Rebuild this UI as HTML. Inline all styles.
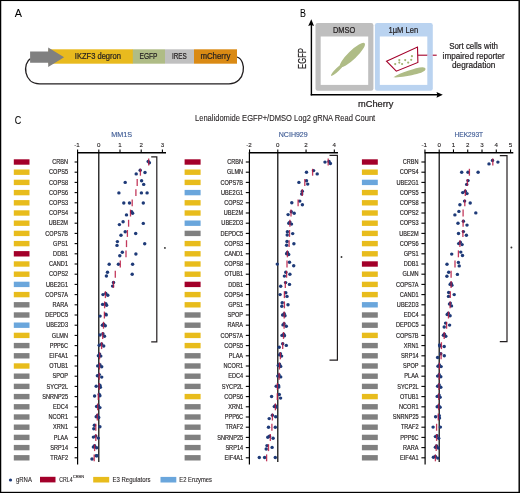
<!DOCTYPE html>
<html><head><meta charset="utf-8"><style>
html,body{margin:0;padding:0;background:#fff;overflow:hidden;}
svg{display:block;font-family:"Liberation Sans", sans-serif;will-change:transform;}
</style></head><body>
<svg width="520" height="493" viewBox="0 0 520 493">
<rect x="0" y="0" width="520" height="493" fill="#fff"/>
<text x="14.80" y="17.00" font-size="11.2" fill="#000" text-anchor="start" stroke="#000" stroke-width="0.05" textLength="7.20" lengthAdjust="spacingAndGlyphs" >A</text>
<text x="300.00" y="17.00" font-size="11.2" fill="#000" text-anchor="start" stroke="#000" stroke-width="0.05" textLength="5.90" lengthAdjust="spacingAndGlyphs" >B</text>
<text x="14.80" y="123.80" font-size="11.6" fill="#000" text-anchor="start" stroke="#000" stroke-width="0.05" textLength="6.50" lengthAdjust="spacingAndGlyphs" >C</text>
<path d="M30.5,58.6 C22.5,63 23.5,83.8 39.5,83.8 L229,83.8 C246,83.8 247,60 237,57" fill="none" stroke="#231F20" stroke-width="1.3"/>
<rect x="48.4" y="49.3" width="84.6" height="14.4" fill="#E8BA1E"/>
<rect x="132.8" y="49.3" width="32.2" height="14.4" fill="#AFBC86"/>
<rect x="165" y="49.3" width="29" height="14.4" fill="#C0C0C0"/>
<rect x="194" y="49.3" width="43" height="14.4" fill="#DA8A14"/>
<path d="M30.1,51.4 L48.2,51.4 L48.2,47.6 L64.1,57.2 L48.2,66.9 L48.2,62.8 L30.1,62.8 Z" fill="#808080"/>
<text x="74.80" y="59.30" font-size="8.6" fill="#231F20" text-anchor="start" stroke="#231F20" stroke-width="0.22" textLength="46.20" lengthAdjust="spacingAndGlyphs" >IKZF3 degron</text>
<text x="139.50" y="59.30" font-size="8.6" fill="#231F20" text-anchor="start" stroke="#231F20" stroke-width="0.22" textLength="18.00" lengthAdjust="spacingAndGlyphs" >EGFP</text>
<text x="171.90" y="59.30" font-size="8.6" fill="#231F20" text-anchor="start" stroke="#231F20" stroke-width="0.22" textLength="14.80" lengthAdjust="spacingAndGlyphs" >IRES</text>
<text x="200.40" y="59.30" font-size="8.6" fill="#231F20" text-anchor="start" stroke="#231F20" stroke-width="0.22" textLength="30.10" lengthAdjust="spacingAndGlyphs" >mCherry</text>
<rect x="315.5" y="23.1" width="57.9" height="67.6" rx="2.2" fill="#BFBFBF"/>
<rect x="320.7" y="36.5" width="47.5" height="48.4" fill="#fff"/>
<rect x="374.9" y="23.1" width="57.9" height="67.6" rx="2.2" fill="#BAD3F0"/>
<rect x="379.8" y="36.5" width="47.5" height="48.4" fill="#fff"/>
<text x="332.90" y="32.80" font-size="9.0" fill="#231F20" text-anchor="start" stroke="#231F20" stroke-width="0.22" textLength="22.30" lengthAdjust="spacingAndGlyphs" >DMSO</text>
<text x="388.50" y="32.80" font-size="9.0" fill="#231F20" text-anchor="start" stroke="#231F20" stroke-width="0.22" textLength="29.60" lengthAdjust="spacingAndGlyphs" >1µM Len</text>
<ellipse cx="352.4" cy="55.0" rx="17" ry="4.3" transform="rotate(-44 352.4 55.0)" fill="#AFBC86"/>
<ellipse cx="337.6" cy="69.5" rx="9" ry="1.75" transform="rotate(-44 337.6 69.5)" fill="#AFBC86"/>
<path d="M393.4,77.3 C397,75 402,72.6 408,70.8 C414,69 419,67.2 422.6,67.3 C426,67.4 426.3,69.6 424.3,71.1 C421,73.5 414,75 406,76.3 C400,77.2 396,77.7 393.4,77.3 Z" fill="#AFBC86"/>
<path d="M386.5,61.2 L417.5,47 L417.9,62.4 L396.3,71.2 Z" fill="none" stroke="#A3002A" stroke-width="1.1" stroke-linejoin="miter"/>
<line x1="417.9" y1="55.2" x2="427.4" y2="55.2" stroke="#A3002A" stroke-width="1.1"/>
<line x1="427.4" y1="55.2" x2="432.8" y2="55.2" stroke="#CDC6E4" stroke-width="1.1"/>
<line x1="432.8" y1="55.2" x2="436.7" y2="55.2" stroke="#A3002A" stroke-width="1.1"/>
<circle cx="395.2" cy="64.1" r="1.1" fill="#A3B472"/>
<circle cx="399.3" cy="60.1" r="1.1" fill="#A3B472"/>
<circle cx="399.3" cy="62.6" r="1.1" fill="#A3B472"/>
<circle cx="402.1" cy="64" r="1.1" fill="#A3B472"/>
<circle cx="405.2" cy="60.1" r="1.1" fill="#A3B472"/>
<circle cx="408.2" cy="62.6" r="1.1" fill="#A3B472"/>
<circle cx="411.2" cy="59.8" r="1.1" fill="#A3B472"/>
<circle cx="411.9" cy="56.2" r="1.1" fill="#A3B472"/>
<line x1="311.4" y1="24" x2="311.4" y2="95.4" stroke="#000" stroke-width="1.4"/>
<line x1="310.7" y1="94.8" x2="438" y2="94.8" stroke="#000" stroke-width="1.5"/>
<path d="M311.3,19.2 L314.0,25.9 L311.3,25.0 L308.2,25.9 Z" fill="#000"/>
<path d="M442.8,94.8 L436.5,97.7 L437.4,94.8 L436.5,91.9 Z" fill="#000"/>
<text x="358.00" y="107.10" font-size="9.1" fill="#231F20" text-anchor="start" stroke="#231F20" stroke-width="0.22" textLength="35.50" lengthAdjust="spacingAndGlyphs" >mCherry</text>
<text x="0" y="0" font-size="10" fill="#231F20" stroke="#231F20" stroke-width="0.22" textLength="20.8" lengthAdjust="spacingAndGlyphs" transform="translate(305.9,68.9) rotate(-90)">EGFP</text>
<text x="449.20" y="48.70" font-size="8.9" fill="#231F20" text-anchor="start" stroke="#231F20" stroke-width="0.22" textLength="48.80" lengthAdjust="spacingAndGlyphs" >Sort cells with</text>
<text x="442.60" y="58.50" font-size="8.9" fill="#231F20" text-anchor="start" stroke="#231F20" stroke-width="0.22" textLength="62.20" lengthAdjust="spacingAndGlyphs" >impaired reporter</text>
<text x="452.00" y="68.10" font-size="8.9" fill="#231F20" text-anchor="start" stroke="#231F20" stroke-width="0.22" textLength="43.40" lengthAdjust="spacingAndGlyphs" >degradation</text>
<text x="195.00" y="121.00" font-size="8.4" fill="#231F20" text-anchor="start" stroke="#231F20" stroke-width="0.1" textLength="180.20" lengthAdjust="spacingAndGlyphs" >Lenalidomide EGFP+/DMSO Log2 gRNA Read Count</text>
<line x1="77.00" y1="152.7" x2="166.00" y2="152.7" stroke="#000" stroke-width="1.4"/>
<line x1="77.60" y1="152.7" x2="77.60" y2="464.5" stroke="#000" stroke-width="1.2"/>
<line x1="98.80" y1="152.7" x2="98.80" y2="462" stroke="#000" stroke-width="1.2"/>
<line x1="77.60" y1="152.7" x2="77.60" y2="149.4" stroke="#000" stroke-width="1.1"/>
<text x="77.00" y="147.00" font-size="6.2" fill="#231F20" text-anchor="middle" stroke="#231F20" stroke-width="0.12" >-1</text>
<line x1="98.80" y1="152.7" x2="98.80" y2="149.4" stroke="#000" stroke-width="1.1"/>
<text x="98.80" y="147.00" font-size="6.2" fill="#231F20" text-anchor="middle" stroke="#231F20" stroke-width="0.12" >0</text>
<line x1="120.00" y1="152.7" x2="120.00" y2="149.4" stroke="#000" stroke-width="1.1"/>
<text x="120.00" y="147.00" font-size="6.2" fill="#231F20" text-anchor="middle" stroke="#231F20" stroke-width="0.12" >1</text>
<line x1="141.20" y1="152.7" x2="141.20" y2="149.4" stroke="#000" stroke-width="1.1"/>
<text x="141.20" y="147.00" font-size="6.2" fill="#231F20" text-anchor="middle" stroke="#231F20" stroke-width="0.12" >2</text>
<line x1="162.40" y1="152.7" x2="162.40" y2="149.4" stroke="#000" stroke-width="1.1"/>
<text x="162.40" y="147.00" font-size="6.2" fill="#231F20" text-anchor="middle" stroke="#231F20" stroke-width="0.12" >3</text>
<text x="111.20" y="136.60" font-size="7.8" fill="#3D5A94" text-anchor="start" stroke="#3D5A94" stroke-width="0.15" textLength="20.80" lengthAdjust="spacingAndGlyphs" >MM1S</text>
<rect x="13.80" y="159.30" width="15.70" height="5.4" fill="#A3002A"/>
<line x1="74.60" y1="162.00" x2="77.60" y2="162.00" stroke="#000" stroke-width="1.1"/>
<rect x="13.80" y="169.50" width="15.70" height="5.4" fill="#E8BC1C"/>
<line x1="74.60" y1="172.20" x2="77.60" y2="172.20" stroke="#000" stroke-width="1.1"/>
<rect x="13.80" y="179.70" width="15.70" height="5.4" fill="#E8BC1C"/>
<line x1="74.60" y1="182.40" x2="77.60" y2="182.40" stroke="#000" stroke-width="1.1"/>
<rect x="13.80" y="189.90" width="15.70" height="5.4" fill="#E8BC1C"/>
<line x1="74.60" y1="192.60" x2="77.60" y2="192.60" stroke="#000" stroke-width="1.1"/>
<rect x="13.80" y="200.10" width="15.70" height="5.4" fill="#E8BC1C"/>
<line x1="74.60" y1="202.80" x2="77.60" y2="202.80" stroke="#000" stroke-width="1.1"/>
<rect x="13.80" y="210.30" width="15.70" height="5.4" fill="#E8BC1C"/>
<line x1="74.60" y1="213.00" x2="77.60" y2="213.00" stroke="#000" stroke-width="1.1"/>
<rect x="13.80" y="220.50" width="15.70" height="5.4" fill="#E8BC1C"/>
<line x1="74.60" y1="223.20" x2="77.60" y2="223.20" stroke="#000" stroke-width="1.1"/>
<rect x="13.80" y="230.70" width="15.70" height="5.4" fill="#E8BC1C"/>
<line x1="74.60" y1="233.40" x2="77.60" y2="233.40" stroke="#000" stroke-width="1.1"/>
<rect x="13.80" y="240.90" width="15.70" height="5.4" fill="#E8BC1C"/>
<line x1="74.60" y1="243.60" x2="77.60" y2="243.60" stroke="#000" stroke-width="1.1"/>
<rect x="13.80" y="251.10" width="15.70" height="5.4" fill="#A3002A"/>
<line x1="74.60" y1="253.80" x2="77.60" y2="253.80" stroke="#000" stroke-width="1.1"/>
<rect x="13.80" y="261.30" width="15.70" height="5.4" fill="#E8BC1C"/>
<line x1="74.60" y1="264.00" x2="77.60" y2="264.00" stroke="#000" stroke-width="1.1"/>
<rect x="13.80" y="271.50" width="15.70" height="5.4" fill="#E8BC1C"/>
<line x1="74.60" y1="274.20" x2="77.60" y2="274.20" stroke="#000" stroke-width="1.1"/>
<rect x="13.80" y="281.70" width="15.70" height="5.4" fill="#6AA6DC"/>
<line x1="74.60" y1="284.40" x2="77.60" y2="284.40" stroke="#000" stroke-width="1.1"/>
<rect x="13.80" y="291.90" width="15.70" height="5.4" fill="#E8BC1C"/>
<line x1="74.60" y1="294.60" x2="77.60" y2="294.60" stroke="#000" stroke-width="1.1"/>
<rect x="13.80" y="302.10" width="15.70" height="5.4" fill="#808080"/>
<line x1="74.60" y1="304.80" x2="77.60" y2="304.80" stroke="#000" stroke-width="1.1"/>
<rect x="13.80" y="312.30" width="15.70" height="5.4" fill="#808080"/>
<line x1="74.60" y1="315.00" x2="77.60" y2="315.00" stroke="#000" stroke-width="1.1"/>
<rect x="13.80" y="322.50" width="15.70" height="5.4" fill="#6AA6DC"/>
<line x1="74.60" y1="325.20" x2="77.60" y2="325.20" stroke="#000" stroke-width="1.1"/>
<rect x="13.80" y="332.70" width="15.70" height="5.4" fill="#E8BC1C"/>
<line x1="74.60" y1="335.40" x2="77.60" y2="335.40" stroke="#000" stroke-width="1.1"/>
<rect x="13.80" y="342.90" width="15.70" height="5.4" fill="#808080"/>
<line x1="74.60" y1="345.60" x2="77.60" y2="345.60" stroke="#000" stroke-width="1.1"/>
<rect x="13.80" y="353.10" width="15.70" height="5.4" fill="#808080"/>
<line x1="74.60" y1="355.80" x2="77.60" y2="355.80" stroke="#000" stroke-width="1.1"/>
<rect x="13.80" y="363.30" width="15.70" height="5.4" fill="#E8BC1C"/>
<line x1="74.60" y1="366.00" x2="77.60" y2="366.00" stroke="#000" stroke-width="1.1"/>
<rect x="13.80" y="373.50" width="15.70" height="5.4" fill="#808080"/>
<line x1="74.60" y1="376.20" x2="77.60" y2="376.20" stroke="#000" stroke-width="1.1"/>
<rect x="13.80" y="383.70" width="15.70" height="5.4" fill="#808080"/>
<line x1="74.60" y1="386.40" x2="77.60" y2="386.40" stroke="#000" stroke-width="1.1"/>
<rect x="13.80" y="393.90" width="15.70" height="5.4" fill="#808080"/>
<line x1="74.60" y1="396.60" x2="77.60" y2="396.60" stroke="#000" stroke-width="1.1"/>
<rect x="13.80" y="404.10" width="15.70" height="5.4" fill="#808080"/>
<line x1="74.60" y1="406.80" x2="77.60" y2="406.80" stroke="#000" stroke-width="1.1"/>
<rect x="13.80" y="414.30" width="15.70" height="5.4" fill="#808080"/>
<line x1="74.60" y1="417.00" x2="77.60" y2="417.00" stroke="#000" stroke-width="1.1"/>
<rect x="13.80" y="424.50" width="15.70" height="5.4" fill="#808080"/>
<line x1="74.60" y1="427.20" x2="77.60" y2="427.20" stroke="#000" stroke-width="1.1"/>
<rect x="13.80" y="434.70" width="15.70" height="5.4" fill="#808080"/>
<line x1="74.60" y1="437.40" x2="77.60" y2="437.40" stroke="#000" stroke-width="1.1"/>
<rect x="13.80" y="444.90" width="15.70" height="5.4" fill="#808080"/>
<line x1="74.60" y1="447.60" x2="77.60" y2="447.60" stroke="#000" stroke-width="1.1"/>
<rect x="13.80" y="455.10" width="15.70" height="5.4" fill="#808080"/>
<line x1="74.60" y1="457.80" x2="77.60" y2="457.80" stroke="#000" stroke-width="1.1"/>
<g transform="translate(68.00,0) scale(0.848,1)">
<text x="0.00" y="164.30" font-size="6.6" fill="#231F20" text-anchor="end" stroke="#231F20" stroke-width="0.18" >CRBN</text>
<text x="0.00" y="174.50" font-size="6.6" fill="#231F20" text-anchor="end" stroke="#231F20" stroke-width="0.18" >COPS5</text>
<text x="0.00" y="184.70" font-size="6.6" fill="#231F20" text-anchor="end" stroke="#231F20" stroke-width="0.18" >COPS8</text>
<text x="0.00" y="194.90" font-size="6.6" fill="#231F20" text-anchor="end" stroke="#231F20" stroke-width="0.18" >COPS6</text>
<text x="0.00" y="205.10" font-size="6.6" fill="#231F20" text-anchor="end" stroke="#231F20" stroke-width="0.18" >COPS3</text>
<text x="0.00" y="215.30" font-size="6.6" fill="#231F20" text-anchor="end" stroke="#231F20" stroke-width="0.18" >COPS4</text>
<text x="0.00" y="225.50" font-size="6.6" fill="#231F20" text-anchor="end" stroke="#231F20" stroke-width="0.18" >UBE2M</text>
<text x="0.00" y="235.70" font-size="6.6" fill="#231F20" text-anchor="end" stroke="#231F20" stroke-width="0.18" >COPS7B</text>
<text x="0.00" y="245.90" font-size="6.6" fill="#231F20" text-anchor="end" stroke="#231F20" stroke-width="0.18" >GPS1</text>
<text x="0.00" y="256.10" font-size="6.6" fill="#231F20" text-anchor="end" stroke="#231F20" stroke-width="0.18" >DDB1</text>
<text x="0.00" y="266.30" font-size="6.6" fill="#231F20" text-anchor="end" stroke="#231F20" stroke-width="0.18" >CAND1</text>
<text x="0.00" y="276.50" font-size="6.6" fill="#231F20" text-anchor="end" stroke="#231F20" stroke-width="0.18" >COPS2</text>
<text x="0.00" y="286.70" font-size="6.6" fill="#231F20" text-anchor="end" stroke="#231F20" stroke-width="0.18" >UBE2G1</text>
<text x="0.00" y="296.90" font-size="6.6" fill="#231F20" text-anchor="end" stroke="#231F20" stroke-width="0.18" >COPS7A</text>
<text x="0.00" y="307.10" font-size="6.6" fill="#231F20" text-anchor="end" stroke="#231F20" stroke-width="0.18" >RARA</text>
<text x="0.00" y="317.30" font-size="6.6" fill="#231F20" text-anchor="end" stroke="#231F20" stroke-width="0.18" >DEPDC5</text>
<text x="0.00" y="327.50" font-size="6.6" fill="#231F20" text-anchor="end" stroke="#231F20" stroke-width="0.18" >UBE2D3</text>
<text x="0.00" y="337.70" font-size="6.6" fill="#231F20" text-anchor="end" stroke="#231F20" stroke-width="0.18" >GLMN</text>
<text x="0.00" y="347.90" font-size="6.6" fill="#231F20" text-anchor="end" stroke="#231F20" stroke-width="0.18" >PPP6C</text>
<text x="0.00" y="358.10" font-size="6.6" fill="#231F20" text-anchor="end" stroke="#231F20" stroke-width="0.18" >EIF4A1</text>
<text x="0.00" y="368.30" font-size="6.6" fill="#231F20" text-anchor="end" stroke="#231F20" stroke-width="0.18" >OTUB1</text>
<text x="0.00" y="378.50" font-size="6.6" fill="#231F20" text-anchor="end" stroke="#231F20" stroke-width="0.18" >SPOP</text>
<text x="0.00" y="388.70" font-size="6.6" fill="#231F20" text-anchor="end" stroke="#231F20" stroke-width="0.18" >SYCP2L</text>
<text x="0.00" y="398.90" font-size="6.6" fill="#231F20" text-anchor="end" stroke="#231F20" stroke-width="0.18" >SNRNP25</text>
<text x="0.00" y="409.10" font-size="6.6" fill="#231F20" text-anchor="end" stroke="#231F20" stroke-width="0.18" >EDC4</text>
<text x="0.00" y="419.30" font-size="6.6" fill="#231F20" text-anchor="end" stroke="#231F20" stroke-width="0.18" >NCOR1</text>
<text x="0.00" y="429.50" font-size="6.6" fill="#231F20" text-anchor="end" stroke="#231F20" stroke-width="0.18" >XRN1</text>
<text x="0.00" y="439.70" font-size="6.6" fill="#231F20" text-anchor="end" stroke="#231F20" stroke-width="0.18" >PLAA</text>
<text x="0.00" y="449.90" font-size="6.6" fill="#231F20" text-anchor="end" stroke="#231F20" stroke-width="0.18" >SRP14</text>
<text x="0.00" y="460.10" font-size="6.6" fill="#231F20" text-anchor="end" stroke="#231F20" stroke-width="0.18" >TRAF2</text>
</g>
<circle cx="148.20" cy="161.40" r="1.72" fill="#1E3A78"/>
<circle cx="149.40" cy="162.80" r="1.72" fill="#1E3A78"/>
<circle cx="140.20" cy="170.30" r="1.72" fill="#1E3A78"/>
<circle cx="136.20" cy="173.90" r="1.72" fill="#1E3A78"/>
<circle cx="145.00" cy="172.50" r="1.72" fill="#1E3A78"/>
<circle cx="125.20" cy="182.40" r="1.72" fill="#1E3A78"/>
<circle cx="141.60" cy="180.80" r="1.72" fill="#1E3A78"/>
<circle cx="143.70" cy="184.40" r="1.72" fill="#1E3A78"/>
<circle cx="118.90" cy="192.90" r="1.72" fill="#1E3A78"/>
<circle cx="141.40" cy="192.90" r="1.72" fill="#1E3A78"/>
<circle cx="147.10" cy="192.90" r="1.72" fill="#1E3A78"/>
<circle cx="123.80" cy="203.00" r="1.72" fill="#1E3A78"/>
<circle cx="129.50" cy="203.00" r="1.72" fill="#1E3A78"/>
<circle cx="143.30" cy="203.00" r="1.72" fill="#1E3A78"/>
<circle cx="131.60" cy="211.80" r="1.72" fill="#1E3A78"/>
<circle cx="132.60" cy="213.20" r="1.72" fill="#1E3A78"/>
<circle cx="126.50" cy="214.90" r="1.72" fill="#1E3A78"/>
<circle cx="123.10" cy="221.70" r="1.72" fill="#1E3A78"/>
<circle cx="119.40" cy="224.60" r="1.72" fill="#1E3A78"/>
<circle cx="143.30" cy="223.40" r="1.72" fill="#1E3A78"/>
<circle cx="125.20" cy="231.80" r="1.72" fill="#1E3A78"/>
<circle cx="121.00" cy="235.20" r="1.72" fill="#1E3A78"/>
<circle cx="135.70" cy="233.50" r="1.72" fill="#1E3A78"/>
<circle cx="117.40" cy="241.60" r="1.72" fill="#1E3A78"/>
<circle cx="117.00" cy="245.40" r="1.72" fill="#1E3A78"/>
<circle cx="144.70" cy="243.80" r="1.72" fill="#1E3A78"/>
<circle cx="122.30" cy="252.30" r="1.72" fill="#1E3A78"/>
<circle cx="119.80" cy="255.70" r="1.72" fill="#1E3A78"/>
<circle cx="135.90" cy="254.00" r="1.72" fill="#1E3A78"/>
<circle cx="109.20" cy="264.30" r="1.72" fill="#1E3A78"/>
<circle cx="118.40" cy="264.30" r="1.72" fill="#1E3A78"/>
<circle cx="132.60" cy="264.30" r="1.72" fill="#1E3A78"/>
<circle cx="107.50" cy="272.20" r="1.72" fill="#1E3A78"/>
<circle cx="106.40" cy="276.00" r="1.72" fill="#1E3A78"/>
<circle cx="132.20" cy="274.30" r="1.72" fill="#1E3A78"/>
<circle cx="113.50" cy="282.50" r="1.72" fill="#1E3A78"/>
<circle cx="112.60" cy="286.10" r="1.72" fill="#1E3A78"/>
<circle cx="103.00" cy="294.60" r="1.72" fill="#1E3A78"/>
<circle cx="107.80" cy="295.30" r="1.72" fill="#1E3A78"/>
<circle cx="105.80" cy="293.40" r="1.72" fill="#1E3A78"/>
<circle cx="102.60" cy="304.40" r="1.72" fill="#1E3A78"/>
<circle cx="106.60" cy="305.20" r="1.72" fill="#1E3A78"/>
<circle cx="105.80" cy="303.80" r="1.72" fill="#1E3A78"/>
<circle cx="100.10" cy="316.10" r="1.72" fill="#1E3A78"/>
<circle cx="105.80" cy="314.10" r="1.72" fill="#1E3A78"/>
<circle cx="106.20" cy="314.90" r="1.72" fill="#1E3A78"/>
<circle cx="102.40" cy="325.30" r="1.72" fill="#1E3A78"/>
<circle cx="105.30" cy="325.70" r="1.72" fill="#1E3A78"/>
<circle cx="103.70" cy="324.10" r="1.72" fill="#1E3A78"/>
<circle cx="100.00" cy="335.00" r="1.72" fill="#1E3A78"/>
<circle cx="104.50" cy="336.30" r="1.72" fill="#1E3A78"/>
<circle cx="102.90" cy="333.80" r="1.72" fill="#1E3A78"/>
<circle cx="99.20" cy="345.20" r="1.72" fill="#1E3A78"/>
<circle cx="103.70" cy="346.00" r="1.72" fill="#1E3A78"/>
<circle cx="101.60" cy="344.00" r="1.72" fill="#1E3A78"/>
<circle cx="98.40" cy="355.70" r="1.72" fill="#1E3A78"/>
<circle cx="100.80" cy="356.10" r="1.72" fill="#1E3A78"/>
<circle cx="99.60" cy="354.10" r="1.72" fill="#1E3A78"/>
<circle cx="97.70" cy="365.90" r="1.72" fill="#1E3A78"/>
<circle cx="101.70" cy="366.70" r="1.72" fill="#1E3A78"/>
<circle cx="99.90" cy="364.70" r="1.72" fill="#1E3A78"/>
<circle cx="97.40" cy="375.70" r="1.72" fill="#1E3A78"/>
<circle cx="101.70" cy="377.10" r="1.72" fill="#1E3A78"/>
<circle cx="99.30" cy="374.60" r="1.72" fill="#1E3A78"/>
<circle cx="96.20" cy="386.20" r="1.72" fill="#1E3A78"/>
<circle cx="100.40" cy="387.20" r="1.72" fill="#1E3A78"/>
<circle cx="99.90" cy="385.20" r="1.72" fill="#1E3A78"/>
<circle cx="94.60" cy="396.00" r="1.72" fill="#1E3A78"/>
<circle cx="99.90" cy="395.70" r="1.72" fill="#1E3A78"/>
<circle cx="99.30" cy="394.50" r="1.72" fill="#1E3A78"/>
<circle cx="96.60" cy="406.50" r="1.72" fill="#1E3A78"/>
<circle cx="99.90" cy="407.60" r="1.72" fill="#1E3A78"/>
<circle cx="98.30" cy="405.70" r="1.72" fill="#1E3A78"/>
<circle cx="96.20" cy="416.70" r="1.72" fill="#1E3A78"/>
<circle cx="98.70" cy="417.50" r="1.72" fill="#1E3A78"/>
<circle cx="97.40" cy="415.40" r="1.72" fill="#1E3A78"/>
<circle cx="94.40" cy="425.20" r="1.72" fill="#1E3A78"/>
<circle cx="93.80" cy="428.70" r="1.72" fill="#1E3A78"/>
<circle cx="99.90" cy="426.80" r="1.72" fill="#1E3A78"/>
<circle cx="93.40" cy="437.10" r="1.72" fill="#1E3A78"/>
<circle cx="98.30" cy="438.10" r="1.72" fill="#1E3A78"/>
<circle cx="95.80" cy="436.10" r="1.72" fill="#1E3A78"/>
<circle cx="93.40" cy="447.00" r="1.72" fill="#1E3A78"/>
<circle cx="96.60" cy="447.80" r="1.72" fill="#1E3A78"/>
<circle cx="94.60" cy="445.80" r="1.72" fill="#1E3A78"/>
<circle cx="92.00" cy="459.00" r="1.72" fill="#1E3A78"/>
<circle cx="96.20" cy="455.80" r="1.72" fill="#1E3A78"/>
<circle cx="97.00" cy="455.80" r="1.72" fill="#1E3A78"/>
<line x1="148.70" y1="158.60" x2="148.70" y2="165.50" stroke="#B8163F" stroke-opacity="0.85" stroke-width="1.3"/>
<line x1="140.40" y1="168.80" x2="140.40" y2="175.70" stroke="#B8163F" stroke-opacity="0.85" stroke-width="1.3"/>
<line x1="137.20" y1="179.00" x2="137.20" y2="185.90" stroke="#B8163F" stroke-opacity="0.85" stroke-width="1.3"/>
<line x1="135.90" y1="189.20" x2="135.90" y2="196.10" stroke="#B8163F" stroke-opacity="0.85" stroke-width="1.3"/>
<line x1="132.20" y1="199.40" x2="132.20" y2="206.30" stroke="#B8163F" stroke-opacity="0.85" stroke-width="1.3"/>
<line x1="130.50" y1="209.60" x2="130.50" y2="216.50" stroke="#B8163F" stroke-opacity="0.85" stroke-width="1.3"/>
<line x1="128.60" y1="219.80" x2="128.60" y2="226.70" stroke="#B8163F" stroke-opacity="0.85" stroke-width="1.3"/>
<line x1="127.40" y1="230.00" x2="127.40" y2="236.90" stroke="#B8163F" stroke-opacity="0.85" stroke-width="1.3"/>
<line x1="126.50" y1="240.20" x2="126.50" y2="247.10" stroke="#B8163F" stroke-opacity="0.85" stroke-width="1.3"/>
<line x1="126.00" y1="250.40" x2="126.00" y2="257.30" stroke="#B8163F" stroke-opacity="0.85" stroke-width="1.3"/>
<line x1="120.30" y1="260.60" x2="120.30" y2="267.50" stroke="#B8163F" stroke-opacity="0.85" stroke-width="1.3"/>
<line x1="115.30" y1="270.80" x2="115.30" y2="277.70" stroke="#B8163F" stroke-opacity="0.85" stroke-width="1.3"/>
<line x1="113.50" y1="281.00" x2="113.50" y2="287.90" stroke="#B8163F" stroke-opacity="0.85" stroke-width="1.3"/>
<line x1="105.40" y1="291.20" x2="105.40" y2="298.10" stroke="#B8163F" stroke-opacity="0.85" stroke-width="1.3"/>
<line x1="104.60" y1="301.40" x2="104.60" y2="308.30" stroke="#B8163F" stroke-opacity="0.85" stroke-width="1.3"/>
<line x1="104.40" y1="311.60" x2="104.40" y2="318.50" stroke="#B8163F" stroke-opacity="0.85" stroke-width="1.3"/>
<line x1="103.50" y1="321.80" x2="103.50" y2="328.70" stroke="#B8163F" stroke-opacity="0.85" stroke-width="1.3"/>
<line x1="102.70" y1="332.00" x2="102.70" y2="338.90" stroke="#B8163F" stroke-opacity="0.85" stroke-width="1.3"/>
<line x1="101.60" y1="342.20" x2="101.60" y2="349.10" stroke="#B8163F" stroke-opacity="0.85" stroke-width="1.3"/>
<line x1="99.60" y1="352.40" x2="99.60" y2="359.30" stroke="#B8163F" stroke-opacity="0.85" stroke-width="1.3"/>
<line x1="99.50" y1="362.60" x2="99.50" y2="369.50" stroke="#B8163F" stroke-opacity="0.85" stroke-width="1.3"/>
<line x1="99.20" y1="372.80" x2="99.20" y2="379.70" stroke="#B8163F" stroke-opacity="0.85" stroke-width="1.3"/>
<line x1="99.20" y1="383.00" x2="99.20" y2="389.90" stroke="#B8163F" stroke-opacity="0.85" stroke-width="1.3"/>
<line x1="98.30" y1="393.20" x2="98.30" y2="400.10" stroke="#B8163F" stroke-opacity="0.85" stroke-width="1.3"/>
<line x1="97.70" y1="403.40" x2="97.70" y2="410.30" stroke="#B8163F" stroke-opacity="0.85" stroke-width="1.3"/>
<line x1="97.30" y1="413.60" x2="97.30" y2="420.50" stroke="#B8163F" stroke-opacity="0.85" stroke-width="1.3"/>
<line x1="95.80" y1="423.80" x2="95.80" y2="430.70" stroke="#B8163F" stroke-opacity="0.85" stroke-width="1.3"/>
<line x1="95.80" y1="434.00" x2="95.80" y2="440.90" stroke="#B8163F" stroke-opacity="0.85" stroke-width="1.3"/>
<line x1="94.60" y1="444.20" x2="94.60" y2="451.10" stroke="#B8163F" stroke-opacity="0.85" stroke-width="1.3"/>
<line x1="94.20" y1="454.40" x2="94.20" y2="461.30" stroke="#B8163F" stroke-opacity="0.85" stroke-width="1.3"/>
<polyline points="151.20,156.80 156.80,156.80 156.80,341.80 151.20,341.80" fill="none" stroke="#231F20" stroke-width="1.2"/>
<circle cx="164.90" cy="247.90" r="0.95" fill="#333"/>
<line x1="248.80" y1="152.7" x2="338.00" y2="152.7" stroke="#000" stroke-width="1.4"/>
<line x1="249.40" y1="152.7" x2="249.40" y2="464.5" stroke="#000" stroke-width="1.2"/>
<line x1="277.80" y1="152.7" x2="277.80" y2="462" stroke="#000" stroke-width="1.2"/>
<line x1="249.54" y1="152.7" x2="249.54" y2="149.4" stroke="#000" stroke-width="1.1"/>
<text x="248.94" y="147.00" font-size="6.2" fill="#231F20" text-anchor="middle" stroke="#231F20" stroke-width="0.12" >-2</text>
<line x1="277.80" y1="152.7" x2="277.80" y2="149.4" stroke="#000" stroke-width="1.1"/>
<text x="277.80" y="147.00" font-size="6.2" fill="#231F20" text-anchor="middle" stroke="#231F20" stroke-width="0.12" >0</text>
<line x1="306.06" y1="152.7" x2="306.06" y2="149.4" stroke="#000" stroke-width="1.1"/>
<text x="306.06" y="147.00" font-size="6.2" fill="#231F20" text-anchor="middle" stroke="#231F20" stroke-width="0.12" >2</text>
<line x1="334.32" y1="152.7" x2="334.32" y2="149.4" stroke="#000" stroke-width="1.1"/>
<text x="334.32" y="147.00" font-size="6.2" fill="#231F20" text-anchor="middle" stroke="#231F20" stroke-width="0.12" >4</text>
<text x="278.80" y="136.60" font-size="7.8" fill="#3D5A94" text-anchor="start" stroke="#3D5A94" stroke-width="0.15" textLength="28.90" lengthAdjust="spacingAndGlyphs" >NCIH929</text>
<rect x="184.60" y="159.30" width="16.00" height="5.4" fill="#A3002A"/>
<line x1="245.80" y1="162.00" x2="249.40" y2="162.00" stroke="#000" stroke-width="1.1"/>
<rect x="184.60" y="169.50" width="16.00" height="5.4" fill="#E8BC1C"/>
<line x1="245.80" y1="172.20" x2="249.40" y2="172.20" stroke="#000" stroke-width="1.1"/>
<rect x="184.60" y="179.70" width="16.00" height="5.4" fill="#E8BC1C"/>
<line x1="245.80" y1="182.40" x2="249.40" y2="182.40" stroke="#000" stroke-width="1.1"/>
<rect x="184.60" y="189.90" width="16.00" height="5.4" fill="#6AA6DC"/>
<line x1="245.80" y1="192.60" x2="249.40" y2="192.60" stroke="#000" stroke-width="1.1"/>
<rect x="184.60" y="200.10" width="16.00" height="5.4" fill="#E8BC1C"/>
<line x1="245.80" y1="202.80" x2="249.40" y2="202.80" stroke="#000" stroke-width="1.1"/>
<rect x="184.60" y="210.30" width="16.00" height="5.4" fill="#E8BC1C"/>
<line x1="245.80" y1="213.00" x2="249.40" y2="213.00" stroke="#000" stroke-width="1.1"/>
<rect x="184.60" y="220.50" width="16.00" height="5.4" fill="#6AA6DC"/>
<line x1="245.80" y1="223.20" x2="249.40" y2="223.20" stroke="#000" stroke-width="1.1"/>
<rect x="184.60" y="230.70" width="16.00" height="5.4" fill="#808080"/>
<line x1="245.80" y1="233.40" x2="249.40" y2="233.40" stroke="#000" stroke-width="1.1"/>
<rect x="184.60" y="240.90" width="16.00" height="5.4" fill="#E8BC1C"/>
<line x1="245.80" y1="243.60" x2="249.40" y2="243.60" stroke="#000" stroke-width="1.1"/>
<rect x="184.60" y="251.10" width="16.00" height="5.4" fill="#E8BC1C"/>
<line x1="245.80" y1="253.80" x2="249.40" y2="253.80" stroke="#000" stroke-width="1.1"/>
<rect x="184.60" y="261.30" width="16.00" height="5.4" fill="#E8BC1C"/>
<line x1="245.80" y1="264.00" x2="249.40" y2="264.00" stroke="#000" stroke-width="1.1"/>
<rect x="184.60" y="271.50" width="16.00" height="5.4" fill="#E8BC1C"/>
<line x1="245.80" y1="274.20" x2="249.40" y2="274.20" stroke="#000" stroke-width="1.1"/>
<rect x="184.60" y="281.70" width="16.00" height="5.4" fill="#A3002A"/>
<line x1="245.80" y1="284.40" x2="249.40" y2="284.40" stroke="#000" stroke-width="1.1"/>
<rect x="184.60" y="291.90" width="16.00" height="5.4" fill="#E8BC1C"/>
<line x1="245.80" y1="294.60" x2="249.40" y2="294.60" stroke="#000" stroke-width="1.1"/>
<rect x="184.60" y="302.10" width="16.00" height="5.4" fill="#E8BC1C"/>
<line x1="245.80" y1="304.80" x2="249.40" y2="304.80" stroke="#000" stroke-width="1.1"/>
<rect x="184.60" y="312.30" width="16.00" height="5.4" fill="#808080"/>
<line x1="245.80" y1="315.00" x2="249.40" y2="315.00" stroke="#000" stroke-width="1.1"/>
<rect x="184.60" y="322.50" width="16.00" height="5.4" fill="#808080"/>
<line x1="245.80" y1="325.20" x2="249.40" y2="325.20" stroke="#000" stroke-width="1.1"/>
<rect x="184.60" y="332.70" width="16.00" height="5.4" fill="#E8BC1C"/>
<line x1="245.80" y1="335.40" x2="249.40" y2="335.40" stroke="#000" stroke-width="1.1"/>
<rect x="184.60" y="342.90" width="16.00" height="5.4" fill="#E8BC1C"/>
<line x1="245.80" y1="345.60" x2="249.40" y2="345.60" stroke="#000" stroke-width="1.1"/>
<rect x="184.60" y="353.10" width="16.00" height="5.4" fill="#808080"/>
<line x1="245.80" y1="355.80" x2="249.40" y2="355.80" stroke="#000" stroke-width="1.1"/>
<rect x="184.60" y="363.30" width="16.00" height="5.4" fill="#808080"/>
<line x1="245.80" y1="366.00" x2="249.40" y2="366.00" stroke="#000" stroke-width="1.1"/>
<rect x="184.60" y="373.50" width="16.00" height="5.4" fill="#808080"/>
<line x1="245.80" y1="376.20" x2="249.40" y2="376.20" stroke="#000" stroke-width="1.1"/>
<rect x="184.60" y="383.70" width="16.00" height="5.4" fill="#808080"/>
<line x1="245.80" y1="386.40" x2="249.40" y2="386.40" stroke="#000" stroke-width="1.1"/>
<rect x="184.60" y="393.90" width="16.00" height="5.4" fill="#E8BC1C"/>
<line x1="245.80" y1="396.60" x2="249.40" y2="396.60" stroke="#000" stroke-width="1.1"/>
<rect x="184.60" y="404.10" width="16.00" height="5.4" fill="#808080"/>
<line x1="245.80" y1="406.80" x2="249.40" y2="406.80" stroke="#000" stroke-width="1.1"/>
<rect x="184.60" y="414.30" width="16.00" height="5.4" fill="#808080"/>
<line x1="245.80" y1="417.00" x2="249.40" y2="417.00" stroke="#000" stroke-width="1.1"/>
<rect x="184.60" y="424.50" width="16.00" height="5.4" fill="#808080"/>
<line x1="245.80" y1="427.20" x2="249.40" y2="427.20" stroke="#000" stroke-width="1.1"/>
<rect x="184.60" y="434.70" width="16.00" height="5.4" fill="#808080"/>
<line x1="245.80" y1="437.40" x2="249.40" y2="437.40" stroke="#000" stroke-width="1.1"/>
<rect x="184.60" y="444.90" width="16.00" height="5.4" fill="#808080"/>
<line x1="245.80" y1="447.60" x2="249.40" y2="447.60" stroke="#000" stroke-width="1.1"/>
<rect x="184.60" y="455.10" width="16.00" height="5.4" fill="#808080"/>
<line x1="245.80" y1="457.80" x2="249.40" y2="457.80" stroke="#000" stroke-width="1.1"/>
<g transform="translate(243.10,0) scale(0.848,1)">
<text x="0.00" y="164.30" font-size="6.6" fill="#231F20" text-anchor="end" stroke="#231F20" stroke-width="0.18" >CRBN</text>
<text x="0.00" y="174.50" font-size="6.6" fill="#231F20" text-anchor="end" stroke="#231F20" stroke-width="0.18" >GLMN</text>
<text x="0.00" y="184.70" font-size="6.6" fill="#231F20" text-anchor="end" stroke="#231F20" stroke-width="0.18" >COPS7B</text>
<text x="0.00" y="194.90" font-size="6.6" fill="#231F20" text-anchor="end" stroke="#231F20" stroke-width="0.18" >UBE2G1</text>
<text x="0.00" y="205.10" font-size="6.6" fill="#231F20" text-anchor="end" stroke="#231F20" stroke-width="0.18" >COPS2</text>
<text x="0.00" y="215.30" font-size="6.6" fill="#231F20" text-anchor="end" stroke="#231F20" stroke-width="0.18" >UBE2M</text>
<text x="0.00" y="225.50" font-size="6.6" fill="#231F20" text-anchor="end" stroke="#231F20" stroke-width="0.18" >UBE2D3</text>
<text x="0.00" y="235.70" font-size="6.6" fill="#231F20" text-anchor="end" stroke="#231F20" stroke-width="0.18" >DEPDC5</text>
<text x="0.00" y="245.90" font-size="6.6" fill="#231F20" text-anchor="end" stroke="#231F20" stroke-width="0.18" >COPS3</text>
<text x="0.00" y="256.10" font-size="6.6" fill="#231F20" text-anchor="end" stroke="#231F20" stroke-width="0.18" >CAND1</text>
<text x="0.00" y="266.30" font-size="6.6" fill="#231F20" text-anchor="end" stroke="#231F20" stroke-width="0.18" >COPS8</text>
<text x="0.00" y="276.50" font-size="6.6" fill="#231F20" text-anchor="end" stroke="#231F20" stroke-width="0.18" >OTUB1</text>
<text x="0.00" y="286.70" font-size="6.6" fill="#231F20" text-anchor="end" stroke="#231F20" stroke-width="0.18" >DDB1</text>
<text x="0.00" y="296.90" font-size="6.6" fill="#231F20" text-anchor="end" stroke="#231F20" stroke-width="0.18" >COPS4</text>
<text x="0.00" y="307.10" font-size="6.6" fill="#231F20" text-anchor="end" stroke="#231F20" stroke-width="0.18" >GPS1</text>
<text x="0.00" y="317.30" font-size="6.6" fill="#231F20" text-anchor="end" stroke="#231F20" stroke-width="0.18" >SPOP</text>
<text x="0.00" y="327.50" font-size="6.6" fill="#231F20" text-anchor="end" stroke="#231F20" stroke-width="0.18" >RARA</text>
<text x="0.00" y="337.70" font-size="6.6" fill="#231F20" text-anchor="end" stroke="#231F20" stroke-width="0.18" >COPS7A</text>
<text x="0.00" y="347.90" font-size="6.6" fill="#231F20" text-anchor="end" stroke="#231F20" stroke-width="0.18" >COPS5</text>
<text x="0.00" y="358.10" font-size="6.6" fill="#231F20" text-anchor="end" stroke="#231F20" stroke-width="0.18" >PLAA</text>
<text x="0.00" y="368.30" font-size="6.6" fill="#231F20" text-anchor="end" stroke="#231F20" stroke-width="0.18" >NCOR1</text>
<text x="0.00" y="378.50" font-size="6.6" fill="#231F20" text-anchor="end" stroke="#231F20" stroke-width="0.18" >EDC4</text>
<text x="0.00" y="388.70" font-size="6.6" fill="#231F20" text-anchor="end" stroke="#231F20" stroke-width="0.18" >SYCP2L</text>
<text x="0.00" y="398.90" font-size="6.6" fill="#231F20" text-anchor="end" stroke="#231F20" stroke-width="0.18" >COPS6</text>
<text x="0.00" y="409.10" font-size="6.6" fill="#231F20" text-anchor="end" stroke="#231F20" stroke-width="0.18" >XRN1</text>
<text x="0.00" y="419.30" font-size="6.6" fill="#231F20" text-anchor="end" stroke="#231F20" stroke-width="0.18" >PPP6C</text>
<text x="0.00" y="429.50" font-size="6.6" fill="#231F20" text-anchor="end" stroke="#231F20" stroke-width="0.18" >TRAF2</text>
<text x="0.00" y="439.70" font-size="6.6" fill="#231F20" text-anchor="end" stroke="#231F20" stroke-width="0.18" >SNRNP25</text>
<text x="0.00" y="449.90" font-size="6.6" fill="#231F20" text-anchor="end" stroke="#231F20" stroke-width="0.18" >SRP14</text>
<text x="0.00" y="460.10" font-size="6.6" fill="#231F20" text-anchor="end" stroke="#231F20" stroke-width="0.18" >EIF4A1</text>
</g>
<circle cx="325.00" cy="162.10" r="1.72" fill="#1E3A78"/>
<circle cx="329.00" cy="161.40" r="1.72" fill="#1E3A78"/>
<circle cx="330.40" cy="163.50" r="1.72" fill="#1E3A78"/>
<circle cx="306.50" cy="172.30" r="1.72" fill="#1E3A78"/>
<circle cx="313.60" cy="170.60" r="1.72" fill="#1E3A78"/>
<circle cx="317.20" cy="173.90" r="1.72" fill="#1E3A78"/>
<circle cx="298.90" cy="182.40" r="1.72" fill="#1E3A78"/>
<circle cx="306.50" cy="180.80" r="1.72" fill="#1E3A78"/>
<circle cx="307.70" cy="184.10" r="1.72" fill="#1E3A78"/>
<circle cx="302.30" cy="191.20" r="1.72" fill="#1E3A78"/>
<circle cx="301.70" cy="194.00" r="1.72" fill="#1E3A78"/>
<circle cx="291.80" cy="202.80" r="1.72" fill="#1E3A78"/>
<circle cx="299.80" cy="201.10" r="1.72" fill="#1E3A78"/>
<circle cx="302.40" cy="204.70" r="1.72" fill="#1E3A78"/>
<circle cx="288.10" cy="214.60" r="1.72" fill="#1E3A78"/>
<circle cx="291.30" cy="211.80" r="1.72" fill="#1E3A78"/>
<circle cx="294.20" cy="213.20" r="1.72" fill="#1E3A78"/>
<circle cx="288.80" cy="223.30" r="1.72" fill="#1E3A78"/>
<circle cx="291.50" cy="224.10" r="1.72" fill="#1E3A78"/>
<circle cx="289.90" cy="222.10" r="1.72" fill="#1E3A78"/>
<circle cx="287.40" cy="231.80" r="1.72" fill="#1E3A78"/>
<circle cx="287.20" cy="235.00" r="1.72" fill="#1E3A78"/>
<circle cx="292.70" cy="233.60" r="1.72" fill="#1E3A78"/>
<circle cx="287.00" cy="241.50" r="1.72" fill="#1E3A78"/>
<circle cx="286.60" cy="245.20" r="1.72" fill="#1E3A78"/>
<circle cx="293.90" cy="243.80" r="1.72" fill="#1E3A78"/>
<circle cx="286.60" cy="253.70" r="1.72" fill="#1E3A78"/>
<circle cx="288.70" cy="254.50" r="1.72" fill="#1E3A78"/>
<circle cx="287.40" cy="252.50" r="1.72" fill="#1E3A78"/>
<circle cx="277.30" cy="264.10" r="1.72" fill="#1E3A78"/>
<circle cx="289.50" cy="262.30" r="1.72" fill="#1E3A78"/>
<circle cx="293.70" cy="265.80" r="1.72" fill="#1E3A78"/>
<circle cx="285.80" cy="272.30" r="1.72" fill="#1E3A78"/>
<circle cx="284.40" cy="276.10" r="1.72" fill="#1E3A78"/>
<circle cx="289.90" cy="274.30" r="1.72" fill="#1E3A78"/>
<circle cx="285.60" cy="282.60" r="1.72" fill="#1E3A78"/>
<circle cx="280.70" cy="286.20" r="1.72" fill="#1E3A78"/>
<circle cx="289.50" cy="284.40" r="1.72" fill="#1E3A78"/>
<circle cx="280.10" cy="294.60" r="1.72" fill="#1E3A78"/>
<circle cx="285.80" cy="292.70" r="1.72" fill="#1E3A78"/>
<circle cx="287.00" cy="296.40" r="1.72" fill="#1E3A78"/>
<circle cx="282.20" cy="302.80" r="1.72" fill="#1E3A78"/>
<circle cx="281.80" cy="306.30" r="1.72" fill="#1E3A78"/>
<circle cx="288.00" cy="304.70" r="1.72" fill="#1E3A78"/>
<circle cx="282.60" cy="315.00" r="1.72" fill="#1E3A78"/>
<circle cx="285.00" cy="315.70" r="1.72" fill="#1E3A78"/>
<circle cx="284.20" cy="313.80" r="1.72" fill="#1E3A78"/>
<circle cx="283.00" cy="324.90" r="1.72" fill="#1E3A78"/>
<circle cx="286.30" cy="326.30" r="1.72" fill="#1E3A78"/>
<circle cx="284.10" cy="323.70" r="1.72" fill="#1E3A78"/>
<circle cx="282.00" cy="335.40" r="1.72" fill="#1E3A78"/>
<circle cx="284.50" cy="335.80" r="1.72" fill="#1E3A78"/>
<circle cx="283.70" cy="334.20" r="1.72" fill="#1E3A78"/>
<circle cx="279.20" cy="347.20" r="1.72" fill="#1E3A78"/>
<circle cx="282.70" cy="343.80" r="1.72" fill="#1E3A78"/>
<circle cx="286.30" cy="345.40" r="1.72" fill="#1E3A78"/>
<circle cx="279.60" cy="354.90" r="1.72" fill="#1E3A78"/>
<circle cx="281.60" cy="356.10" r="1.72" fill="#1E3A78"/>
<circle cx="280.40" cy="353.70" r="1.72" fill="#1E3A78"/>
<circle cx="278.30" cy="365.50" r="1.72" fill="#1E3A78"/>
<circle cx="280.70" cy="366.40" r="1.72" fill="#1E3A78"/>
<circle cx="279.50" cy="364.30" r="1.72" fill="#1E3A78"/>
<circle cx="277.80" cy="376.10" r="1.72" fill="#1E3A78"/>
<circle cx="280.70" cy="376.90" r="1.72" fill="#1E3A78"/>
<circle cx="279.10" cy="374.90" r="1.72" fill="#1E3A78"/>
<circle cx="276.20" cy="386.20" r="1.72" fill="#1E3A78"/>
<circle cx="278.50" cy="385.40" r="1.72" fill="#1E3A78"/>
<circle cx="278.80" cy="387.00" r="1.72" fill="#1E3A78"/>
<circle cx="271.60" cy="396.50" r="1.72" fill="#1E3A78"/>
<circle cx="279.30" cy="394.50" r="1.72" fill="#1E3A78"/>
<circle cx="280.60" cy="398.10" r="1.72" fill="#1E3A78"/>
<circle cx="274.30" cy="406.60" r="1.72" fill="#1E3A78"/>
<circle cx="276.30" cy="407.00" r="1.72" fill="#1E3A78"/>
<circle cx="275.30" cy="405.80" r="1.72" fill="#1E3A78"/>
<circle cx="269.20" cy="418.60" r="1.72" fill="#1E3A78"/>
<circle cx="272.40" cy="415.20" r="1.72" fill="#1E3A78"/>
<circle cx="275.70" cy="416.80" r="1.72" fill="#1E3A78"/>
<circle cx="268.50" cy="427.30" r="1.72" fill="#1E3A78"/>
<circle cx="275.30" cy="427.30" r="1.72" fill="#1E3A78"/>
<circle cx="267.80" cy="437.20" r="1.72" fill="#1E3A78"/>
<circle cx="269.50" cy="436.20" r="1.72" fill="#1E3A78"/>
<circle cx="273.10" cy="438.30" r="1.72" fill="#1E3A78"/>
<circle cx="267.00" cy="445.60" r="1.72" fill="#1E3A78"/>
<circle cx="266.20" cy="449.00" r="1.72" fill="#1E3A78"/>
<circle cx="272.10" cy="447.40" r="1.72" fill="#1E3A78"/>
<circle cx="259.30" cy="457.50" r="1.72" fill="#1E3A78"/>
<circle cx="264.60" cy="457.50" r="1.72" fill="#1E3A78"/>
<circle cx="275.30" cy="457.50" r="1.72" fill="#1E3A78"/>
<line x1="328.20" y1="158.60" x2="328.20" y2="165.50" stroke="#B8163F" stroke-opacity="0.85" stroke-width="1.3"/>
<line x1="312.60" y1="168.80" x2="312.60" y2="175.70" stroke="#B8163F" stroke-opacity="0.85" stroke-width="1.3"/>
<line x1="304.80" y1="179.00" x2="304.80" y2="185.90" stroke="#B8163F" stroke-opacity="0.85" stroke-width="1.3"/>
<line x1="302.30" y1="189.20" x2="302.30" y2="196.10" stroke="#B8163F" stroke-opacity="0.85" stroke-width="1.3"/>
<line x1="298.10" y1="199.40" x2="298.10" y2="206.30" stroke="#B8163F" stroke-opacity="0.85" stroke-width="1.3"/>
<line x1="291.00" y1="209.60" x2="291.00" y2="216.50" stroke="#B8163F" stroke-opacity="0.85" stroke-width="1.3"/>
<line x1="289.90" y1="219.80" x2="289.90" y2="226.70" stroke="#B8163F" stroke-opacity="0.85" stroke-width="1.3"/>
<line x1="289.50" y1="230.00" x2="289.50" y2="236.90" stroke="#B8163F" stroke-opacity="0.85" stroke-width="1.3"/>
<line x1="289.10" y1="240.20" x2="289.10" y2="247.10" stroke="#B8163F" stroke-opacity="0.85" stroke-width="1.3"/>
<line x1="287.40" y1="250.40" x2="287.40" y2="257.30" stroke="#B8163F" stroke-opacity="0.85" stroke-width="1.3"/>
<line x1="287.00" y1="260.60" x2="287.00" y2="267.50" stroke="#B8163F" stroke-opacity="0.85" stroke-width="1.3"/>
<line x1="286.60" y1="270.80" x2="286.60" y2="277.70" stroke="#B8163F" stroke-opacity="0.85" stroke-width="1.3"/>
<line x1="285.30" y1="281.00" x2="285.30" y2="287.90" stroke="#B8163F" stroke-opacity="0.85" stroke-width="1.3"/>
<line x1="284.40" y1="291.20" x2="284.40" y2="298.10" stroke="#B8163F" stroke-opacity="0.85" stroke-width="1.3"/>
<line x1="284.40" y1="301.40" x2="284.40" y2="308.30" stroke="#B8163F" stroke-opacity="0.85" stroke-width="1.3"/>
<line x1="284.20" y1="311.60" x2="284.20" y2="318.50" stroke="#B8163F" stroke-opacity="0.85" stroke-width="1.3"/>
<line x1="284.10" y1="321.80" x2="284.10" y2="328.70" stroke="#B8163F" stroke-opacity="0.85" stroke-width="1.3"/>
<line x1="283.50" y1="332.00" x2="283.50" y2="338.90" stroke="#B8163F" stroke-opacity="0.85" stroke-width="1.3"/>
<line x1="282.70" y1="342.20" x2="282.70" y2="349.10" stroke="#B8163F" stroke-opacity="0.85" stroke-width="1.3"/>
<line x1="280.40" y1="352.40" x2="280.40" y2="359.30" stroke="#B8163F" stroke-opacity="0.85" stroke-width="1.3"/>
<line x1="279.50" y1="362.60" x2="279.50" y2="369.50" stroke="#B8163F" stroke-opacity="0.85" stroke-width="1.3"/>
<line x1="279.10" y1="372.80" x2="279.10" y2="379.70" stroke="#B8163F" stroke-opacity="0.85" stroke-width="1.3"/>
<line x1="277.40" y1="383.00" x2="277.40" y2="389.90" stroke="#B8163F" stroke-opacity="0.85" stroke-width="1.3"/>
<line x1="277.30" y1="393.20" x2="277.30" y2="400.10" stroke="#B8163F" stroke-opacity="0.85" stroke-width="1.3"/>
<line x1="275.40" y1="403.40" x2="275.40" y2="410.30" stroke="#B8163F" stroke-opacity="0.85" stroke-width="1.3"/>
<line x1="272.40" y1="413.60" x2="272.40" y2="420.50" stroke="#B8163F" stroke-opacity="0.85" stroke-width="1.3"/>
<line x1="271.90" y1="423.80" x2="271.90" y2="430.70" stroke="#B8163F" stroke-opacity="0.85" stroke-width="1.3"/>
<line x1="270.30" y1="434.00" x2="270.30" y2="440.90" stroke="#B8163F" stroke-opacity="0.85" stroke-width="1.3"/>
<line x1="268.50" y1="444.20" x2="268.50" y2="451.10" stroke="#B8163F" stroke-opacity="0.85" stroke-width="1.3"/>
<line x1="266.60" y1="454.40" x2="266.60" y2="461.30" stroke="#B8163F" stroke-opacity="0.85" stroke-width="1.3"/>
<polyline points="329.50,155.40 337.40,155.40 337.40,360.20 329.50,360.20" fill="none" stroke="#231F20" stroke-width="1.2"/>
<circle cx="341.50" cy="257.00" r="0.95" fill="#333"/>
<line x1="424.50" y1="152.7" x2="513.30" y2="152.7" stroke="#000" stroke-width="1.4"/>
<line x1="425.10" y1="152.7" x2="425.10" y2="464.5" stroke="#000" stroke-width="1.2"/>
<line x1="439.20" y1="152.7" x2="439.20" y2="462" stroke="#000" stroke-width="1.2"/>
<line x1="424.93" y1="152.7" x2="424.93" y2="149.4" stroke="#000" stroke-width="1.1"/>
<text x="424.33" y="147.00" font-size="6.2" fill="#231F20" text-anchor="middle" stroke="#231F20" stroke-width="0.12" >-1</text>
<line x1="439.20" y1="152.7" x2="439.20" y2="149.4" stroke="#000" stroke-width="1.1"/>
<text x="439.20" y="147.00" font-size="6.2" fill="#231F20" text-anchor="middle" stroke="#231F20" stroke-width="0.12" >0</text>
<line x1="453.47" y1="152.7" x2="453.47" y2="149.4" stroke="#000" stroke-width="1.1"/>
<text x="453.47" y="147.00" font-size="6.2" fill="#231F20" text-anchor="middle" stroke="#231F20" stroke-width="0.12" >1</text>
<line x1="467.74" y1="152.7" x2="467.74" y2="149.4" stroke="#000" stroke-width="1.1"/>
<text x="467.74" y="147.00" font-size="6.2" fill="#231F20" text-anchor="middle" stroke="#231F20" stroke-width="0.12" >2</text>
<line x1="482.01" y1="152.7" x2="482.01" y2="149.4" stroke="#000" stroke-width="1.1"/>
<text x="482.01" y="147.00" font-size="6.2" fill="#231F20" text-anchor="middle" stroke="#231F20" stroke-width="0.12" >3</text>
<line x1="496.28" y1="152.7" x2="496.28" y2="149.4" stroke="#000" stroke-width="1.1"/>
<text x="496.28" y="147.00" font-size="6.2" fill="#231F20" text-anchor="middle" stroke="#231F20" stroke-width="0.12" >4</text>
<line x1="510.55" y1="152.7" x2="510.55" y2="149.4" stroke="#000" stroke-width="1.1"/>
<text x="510.55" y="147.00" font-size="6.2" fill="#231F20" text-anchor="middle" stroke="#231F20" stroke-width="0.12" >5</text>
<text x="454.60" y="136.60" font-size="7.8" fill="#3D5A94" text-anchor="start" stroke="#3D5A94" stroke-width="0.15" textLength="28.50" lengthAdjust="spacingAndGlyphs" >HEK293T</text>
<rect x="361.90" y="159.30" width="15.90" height="5.4" fill="#A3002A"/>
<line x1="421.40" y1="162.00" x2="425.10" y2="162.00" stroke="#000" stroke-width="1.1"/>
<rect x="361.90" y="169.50" width="15.90" height="5.4" fill="#E8BC1C"/>
<line x1="421.40" y1="172.20" x2="425.10" y2="172.20" stroke="#000" stroke-width="1.1"/>
<rect x="361.90" y="179.70" width="15.90" height="5.4" fill="#6AA6DC"/>
<line x1="421.40" y1="182.40" x2="425.10" y2="182.40" stroke="#000" stroke-width="1.1"/>
<rect x="361.90" y="189.90" width="15.90" height="5.4" fill="#E8BC1C"/>
<line x1="421.40" y1="192.60" x2="425.10" y2="192.60" stroke="#000" stroke-width="1.1"/>
<rect x="361.90" y="200.10" width="15.90" height="5.4" fill="#E8BC1C"/>
<line x1="421.40" y1="202.80" x2="425.10" y2="202.80" stroke="#000" stroke-width="1.1"/>
<rect x="361.90" y="210.30" width="15.90" height="5.4" fill="#E8BC1C"/>
<line x1="421.40" y1="213.00" x2="425.10" y2="213.00" stroke="#000" stroke-width="1.1"/>
<rect x="361.90" y="220.50" width="15.90" height="5.4" fill="#E8BC1C"/>
<line x1="421.40" y1="223.20" x2="425.10" y2="223.20" stroke="#000" stroke-width="1.1"/>
<rect x="361.90" y="230.70" width="15.90" height="5.4" fill="#E8BC1C"/>
<line x1="421.40" y1="233.40" x2="425.10" y2="233.40" stroke="#000" stroke-width="1.1"/>
<rect x="361.90" y="240.90" width="15.90" height="5.4" fill="#E8BC1C"/>
<line x1="421.40" y1="243.60" x2="425.10" y2="243.60" stroke="#000" stroke-width="1.1"/>
<rect x="361.90" y="251.10" width="15.90" height="5.4" fill="#E8BC1C"/>
<line x1="421.40" y1="253.80" x2="425.10" y2="253.80" stroke="#000" stroke-width="1.1"/>
<rect x="361.90" y="261.30" width="15.90" height="5.4" fill="#A3002A"/>
<line x1="421.40" y1="264.00" x2="425.10" y2="264.00" stroke="#000" stroke-width="1.1"/>
<rect x="361.90" y="271.50" width="15.90" height="5.4" fill="#E8BC1C"/>
<line x1="421.40" y1="274.20" x2="425.10" y2="274.20" stroke="#000" stroke-width="1.1"/>
<rect x="361.90" y="281.70" width="15.90" height="5.4" fill="#E8BC1C"/>
<line x1="421.40" y1="284.40" x2="425.10" y2="284.40" stroke="#000" stroke-width="1.1"/>
<rect x="361.90" y="291.90" width="15.90" height="5.4" fill="#E8BC1C"/>
<line x1="421.40" y1="294.60" x2="425.10" y2="294.60" stroke="#000" stroke-width="1.1"/>
<rect x="361.90" y="302.10" width="15.90" height="5.4" fill="#6AA6DC"/>
<line x1="421.40" y1="304.80" x2="425.10" y2="304.80" stroke="#000" stroke-width="1.1"/>
<rect x="361.90" y="312.30" width="15.90" height="5.4" fill="#808080"/>
<line x1="421.40" y1="315.00" x2="425.10" y2="315.00" stroke="#000" stroke-width="1.1"/>
<rect x="361.90" y="322.50" width="15.90" height="5.4" fill="#808080"/>
<line x1="421.40" y1="325.20" x2="425.10" y2="325.20" stroke="#000" stroke-width="1.1"/>
<rect x="361.90" y="332.70" width="15.90" height="5.4" fill="#E8BC1C"/>
<line x1="421.40" y1="335.40" x2="425.10" y2="335.40" stroke="#000" stroke-width="1.1"/>
<rect x="361.90" y="342.90" width="15.90" height="5.4" fill="#808080"/>
<line x1="421.40" y1="345.60" x2="425.10" y2="345.60" stroke="#000" stroke-width="1.1"/>
<rect x="361.90" y="353.10" width="15.90" height="5.4" fill="#808080"/>
<line x1="421.40" y1="355.80" x2="425.10" y2="355.80" stroke="#000" stroke-width="1.1"/>
<rect x="361.90" y="363.30" width="15.90" height="5.4" fill="#808080"/>
<line x1="421.40" y1="366.00" x2="425.10" y2="366.00" stroke="#000" stroke-width="1.1"/>
<rect x="361.90" y="373.50" width="15.90" height="5.4" fill="#808080"/>
<line x1="421.40" y1="376.20" x2="425.10" y2="376.20" stroke="#000" stroke-width="1.1"/>
<rect x="361.90" y="383.70" width="15.90" height="5.4" fill="#808080"/>
<line x1="421.40" y1="386.40" x2="425.10" y2="386.40" stroke="#000" stroke-width="1.1"/>
<rect x="361.90" y="393.90" width="15.90" height="5.4" fill="#E8BC1C"/>
<line x1="421.40" y1="396.60" x2="425.10" y2="396.60" stroke="#000" stroke-width="1.1"/>
<rect x="361.90" y="404.10" width="15.90" height="5.4" fill="#808080"/>
<line x1="421.40" y1="406.80" x2="425.10" y2="406.80" stroke="#000" stroke-width="1.1"/>
<rect x="361.90" y="414.30" width="15.90" height="5.4" fill="#808080"/>
<line x1="421.40" y1="417.00" x2="425.10" y2="417.00" stroke="#000" stroke-width="1.1"/>
<rect x="361.90" y="424.50" width="15.90" height="5.4" fill="#808080"/>
<line x1="421.40" y1="427.20" x2="425.10" y2="427.20" stroke="#000" stroke-width="1.1"/>
<rect x="361.90" y="434.70" width="15.90" height="5.4" fill="#808080"/>
<line x1="421.40" y1="437.40" x2="425.10" y2="437.40" stroke="#000" stroke-width="1.1"/>
<rect x="361.90" y="444.90" width="15.90" height="5.4" fill="#808080"/>
<line x1="421.40" y1="447.60" x2="425.10" y2="447.60" stroke="#000" stroke-width="1.1"/>
<rect x="361.90" y="455.10" width="15.90" height="5.4" fill="#808080"/>
<line x1="421.40" y1="457.80" x2="425.10" y2="457.80" stroke="#000" stroke-width="1.1"/>
<g transform="translate(418.60,0) scale(0.848,1)">
<text x="0.00" y="164.30" font-size="6.6" fill="#231F20" text-anchor="end" stroke="#231F20" stroke-width="0.18" >CRBN</text>
<text x="0.00" y="174.50" font-size="6.6" fill="#231F20" text-anchor="end" stroke="#231F20" stroke-width="0.18" >COPS4</text>
<text x="0.00" y="184.70" font-size="6.6" fill="#231F20" text-anchor="end" stroke="#231F20" stroke-width="0.18" >UBE2G1</text>
<text x="0.00" y="194.90" font-size="6.6" fill="#231F20" text-anchor="end" stroke="#231F20" stroke-width="0.18" >COPS5</text>
<text x="0.00" y="205.10" font-size="6.6" fill="#231F20" text-anchor="end" stroke="#231F20" stroke-width="0.18" >COPS8</text>
<text x="0.00" y="215.30" font-size="6.6" fill="#231F20" text-anchor="end" stroke="#231F20" stroke-width="0.18" >COPS2</text>
<text x="0.00" y="225.50" font-size="6.6" fill="#231F20" text-anchor="end" stroke="#231F20" stroke-width="0.18" >COPS3</text>
<text x="0.00" y="235.70" font-size="6.6" fill="#231F20" text-anchor="end" stroke="#231F20" stroke-width="0.18" >UBE2M</text>
<text x="0.00" y="245.90" font-size="6.6" fill="#231F20" text-anchor="end" stroke="#231F20" stroke-width="0.18" >COPS6</text>
<text x="0.00" y="256.10" font-size="6.6" fill="#231F20" text-anchor="end" stroke="#231F20" stroke-width="0.18" >GPS1</text>
<text x="0.00" y="266.30" font-size="6.6" fill="#231F20" text-anchor="end" stroke="#231F20" stroke-width="0.18" >DDB1</text>
<text x="0.00" y="276.50" font-size="6.6" fill="#231F20" text-anchor="end" stroke="#231F20" stroke-width="0.18" >GLMN</text>
<text x="0.00" y="286.70" font-size="6.6" fill="#231F20" text-anchor="end" stroke="#231F20" stroke-width="0.18" >COPS7A</text>
<text x="0.00" y="296.90" font-size="6.6" fill="#231F20" text-anchor="end" stroke="#231F20" stroke-width="0.18" >CAND1</text>
<text x="0.00" y="307.10" font-size="6.6" fill="#231F20" text-anchor="end" stroke="#231F20" stroke-width="0.18" >UBE2D3</text>
<text x="0.00" y="317.30" font-size="6.6" fill="#231F20" text-anchor="end" stroke="#231F20" stroke-width="0.18" >EDC4</text>
<text x="0.00" y="327.50" font-size="6.6" fill="#231F20" text-anchor="end" stroke="#231F20" stroke-width="0.18" >DEPDC5</text>
<text x="0.00" y="337.70" font-size="6.6" fill="#231F20" text-anchor="end" stroke="#231F20" stroke-width="0.18" >COPS7B</text>
<text x="0.00" y="347.90" font-size="6.6" fill="#231F20" text-anchor="end" stroke="#231F20" stroke-width="0.18" >XRN1</text>
<text x="0.00" y="358.10" font-size="6.6" fill="#231F20" text-anchor="end" stroke="#231F20" stroke-width="0.18" >SRP14</text>
<text x="0.00" y="368.30" font-size="6.6" fill="#231F20" text-anchor="end" stroke="#231F20" stroke-width="0.18" >SPOP</text>
<text x="0.00" y="378.50" font-size="6.6" fill="#231F20" text-anchor="end" stroke="#231F20" stroke-width="0.18" >PLAA</text>
<text x="0.00" y="388.70" font-size="6.6" fill="#231F20" text-anchor="end" stroke="#231F20" stroke-width="0.18" >SYCP2L</text>
<text x="0.00" y="398.90" font-size="6.6" fill="#231F20" text-anchor="end" stroke="#231F20" stroke-width="0.18" >OTUB1</text>
<text x="0.00" y="409.10" font-size="6.6" fill="#231F20" text-anchor="end" stroke="#231F20" stroke-width="0.18" >NCOR1</text>
<text x="0.00" y="419.30" font-size="6.6" fill="#231F20" text-anchor="end" stroke="#231F20" stroke-width="0.18" >SNRNP25</text>
<text x="0.00" y="429.50" font-size="6.6" fill="#231F20" text-anchor="end" stroke="#231F20" stroke-width="0.18" >TRAF2</text>
<text x="0.00" y="439.70" font-size="6.6" fill="#231F20" text-anchor="end" stroke="#231F20" stroke-width="0.18" >PPP6C</text>
<text x="0.00" y="449.90" font-size="6.6" fill="#231F20" text-anchor="end" stroke="#231F20" stroke-width="0.18" >RARA</text>
<text x="0.00" y="460.10" font-size="6.6" fill="#231F20" text-anchor="end" stroke="#231F20" stroke-width="0.18" >EIF4A1</text>
</g>
<circle cx="492.50" cy="160.40" r="1.72" fill="#1E3A78"/>
<circle cx="489.00" cy="163.90" r="1.72" fill="#1E3A78"/>
<circle cx="497.90" cy="162.10" r="1.72" fill="#1E3A78"/>
<circle cx="461.70" cy="172.30" r="1.72" fill="#1E3A78"/>
<circle cx="468.00" cy="172.30" r="1.72" fill="#1E3A78"/>
<circle cx="478.10" cy="172.30" r="1.72" fill="#1E3A78"/>
<circle cx="468.00" cy="180.60" r="1.72" fill="#1E3A78"/>
<circle cx="466.70" cy="184.40" r="1.72" fill="#1E3A78"/>
<circle cx="462.70" cy="192.60" r="1.72" fill="#1E3A78"/>
<circle cx="467.00" cy="193.60" r="1.72" fill="#1E3A78"/>
<circle cx="465.30" cy="191.20" r="1.72" fill="#1E3A78"/>
<circle cx="464.60" cy="201.10" r="1.72" fill="#1E3A78"/>
<circle cx="459.90" cy="204.70" r="1.72" fill="#1E3A78"/>
<circle cx="470.20" cy="203.00" r="1.72" fill="#1E3A78"/>
<circle cx="458.90" cy="211.40" r="1.72" fill="#1E3A78"/>
<circle cx="454.90" cy="214.90" r="1.72" fill="#1E3A78"/>
<circle cx="475.80" cy="212.90" r="1.72" fill="#1E3A78"/>
<circle cx="458.00" cy="223.30" r="1.72" fill="#1E3A78"/>
<circle cx="463.40" cy="221.30" r="1.72" fill="#1E3A78"/>
<circle cx="467.00" cy="225.10" r="1.72" fill="#1E3A78"/>
<circle cx="458.50" cy="233.50" r="1.72" fill="#1E3A78"/>
<circle cx="463.40" cy="231.60" r="1.72" fill="#1E3A78"/>
<circle cx="466.40" cy="235.30" r="1.72" fill="#1E3A78"/>
<circle cx="458.70" cy="243.60" r="1.72" fill="#1E3A78"/>
<circle cx="462.10" cy="244.60" r="1.72" fill="#1E3A78"/>
<circle cx="460.30" cy="242.20" r="1.72" fill="#1E3A78"/>
<circle cx="451.70" cy="254.10" r="1.72" fill="#1E3A78"/>
<circle cx="460.80" cy="252.10" r="1.72" fill="#1E3A78"/>
<circle cx="462.50" cy="255.50" r="1.72" fill="#1E3A78"/>
<circle cx="447.00" cy="264.20" r="1.72" fill="#1E3A78"/>
<circle cx="458.40" cy="262.40" r="1.72" fill="#1E3A78"/>
<circle cx="459.20" cy="265.90" r="1.72" fill="#1E3A78"/>
<circle cx="448.70" cy="272.30" r="1.72" fill="#1E3A78"/>
<circle cx="446.90" cy="276.20" r="1.72" fill="#1E3A78"/>
<circle cx="457.40" cy="274.40" r="1.72" fill="#1E3A78"/>
<circle cx="450.10" cy="284.40" r="1.72" fill="#1E3A78"/>
<circle cx="451.90" cy="285.20" r="1.72" fill="#1E3A78"/>
<circle cx="451.10" cy="283.20" r="1.72" fill="#1E3A78"/>
<circle cx="448.70" cy="292.50" r="1.72" fill="#1E3A78"/>
<circle cx="448.50" cy="296.40" r="1.72" fill="#1E3A78"/>
<circle cx="454.20" cy="294.60" r="1.72" fill="#1E3A78"/>
<circle cx="449.50" cy="304.10" r="1.72" fill="#1E3A78"/>
<circle cx="451.50" cy="305.90" r="1.72" fill="#1E3A78"/>
<circle cx="450.30" cy="303.10" r="1.72" fill="#1E3A78"/>
<circle cx="447.20" cy="314.50" r="1.72" fill="#1E3A78"/>
<circle cx="450.10" cy="315.70" r="1.72" fill="#1E3A78"/>
<circle cx="448.30" cy="313.20" r="1.72" fill="#1E3A78"/>
<circle cx="445.60" cy="323.10" r="1.72" fill="#1E3A78"/>
<circle cx="444.20" cy="327.00" r="1.72" fill="#1E3A78"/>
<circle cx="449.60" cy="325.10" r="1.72" fill="#1E3A78"/>
<circle cx="443.40" cy="335.30" r="1.72" fill="#1E3A78"/>
<circle cx="445.80" cy="336.30" r="1.72" fill="#1E3A78"/>
<circle cx="444.40" cy="334.10" r="1.72" fill="#1E3A78"/>
<circle cx="439.60" cy="344.90" r="1.72" fill="#1E3A78"/>
<circle cx="444.20" cy="346.50" r="1.72" fill="#1E3A78"/>
<circle cx="439.80" cy="346.00" r="1.72" fill="#1E3A78"/>
<circle cx="437.60" cy="357.50" r="1.72" fill="#1E3A78"/>
<circle cx="440.80" cy="353.70" r="1.72" fill="#1E3A78"/>
<circle cx="444.30" cy="355.80" r="1.72" fill="#1E3A78"/>
<circle cx="438.00" cy="366.20" r="1.72" fill="#1E3A78"/>
<circle cx="441.10" cy="366.60" r="1.72" fill="#1E3A78"/>
<circle cx="439.40" cy="365.00" r="1.72" fill="#1E3A78"/>
<circle cx="437.60" cy="376.10" r="1.72" fill="#1E3A78"/>
<circle cx="440.80" cy="376.80" r="1.72" fill="#1E3A78"/>
<circle cx="439.20" cy="374.70" r="1.72" fill="#1E3A78"/>
<circle cx="437.60" cy="386.30" r="1.72" fill="#1E3A78"/>
<circle cx="440.80" cy="387.30" r="1.72" fill="#1E3A78"/>
<circle cx="439.20" cy="384.90" r="1.72" fill="#1E3A78"/>
<circle cx="437.20" cy="396.40" r="1.72" fill="#1E3A78"/>
<circle cx="440.10" cy="397.20" r="1.72" fill="#1E3A78"/>
<circle cx="439.10" cy="395.10" r="1.72" fill="#1E3A78"/>
<circle cx="437.20" cy="406.70" r="1.72" fill="#1E3A78"/>
<circle cx="440.10" cy="407.30" r="1.72" fill="#1E3A78"/>
<circle cx="438.70" cy="405.70" r="1.72" fill="#1E3A78"/>
<circle cx="435.60" cy="416.80" r="1.72" fill="#1E3A78"/>
<circle cx="439.50" cy="418.10" r="1.72" fill="#1E3A78"/>
<circle cx="439.30" cy="415.70" r="1.72" fill="#1E3A78"/>
<circle cx="433.10" cy="427.10" r="1.72" fill="#1E3A78"/>
<circle cx="440.40" cy="427.10" r="1.72" fill="#1E3A78"/>
<circle cx="435.40" cy="436.60" r="1.72" fill="#1E3A78"/>
<circle cx="438.70" cy="438.30" r="1.72" fill="#1E3A78"/>
<circle cx="437.00" cy="435.80" r="1.72" fill="#1E3A78"/>
<circle cx="435.40" cy="447.20" r="1.72" fill="#1E3A78"/>
<circle cx="438.30" cy="448.00" r="1.72" fill="#1E3A78"/>
<circle cx="436.60" cy="446.00" r="1.72" fill="#1E3A78"/>
<circle cx="433.40" cy="457.30" r="1.72" fill="#1E3A78"/>
<circle cx="437.80" cy="458.10" r="1.72" fill="#1E3A78"/>
<circle cx="435.40" cy="456.50" r="1.72" fill="#1E3A78"/>
<line x1="492.80" y1="158.60" x2="492.80" y2="165.50" stroke="#B8163F" stroke-opacity="0.85" stroke-width="1.3"/>
<line x1="469.40" y1="168.80" x2="469.40" y2="175.70" stroke="#B8163F" stroke-opacity="0.85" stroke-width="1.3"/>
<line x1="467.40" y1="179.00" x2="467.40" y2="185.90" stroke="#B8163F" stroke-opacity="0.85" stroke-width="1.3"/>
<line x1="465.30" y1="189.20" x2="465.30" y2="196.10" stroke="#B8163F" stroke-opacity="0.85" stroke-width="1.3"/>
<line x1="464.80" y1="199.40" x2="464.80" y2="206.30" stroke="#B8163F" stroke-opacity="0.85" stroke-width="1.3"/>
<line x1="463.10" y1="209.60" x2="463.10" y2="216.50" stroke="#B8163F" stroke-opacity="0.85" stroke-width="1.3"/>
<line x1="463.10" y1="219.80" x2="463.10" y2="226.70" stroke="#B8163F" stroke-opacity="0.85" stroke-width="1.3"/>
<line x1="462.90" y1="230.00" x2="462.90" y2="236.90" stroke="#B8163F" stroke-opacity="0.85" stroke-width="1.3"/>
<line x1="459.90" y1="240.20" x2="459.90" y2="247.10" stroke="#B8163F" stroke-opacity="0.85" stroke-width="1.3"/>
<line x1="458.40" y1="250.40" x2="458.40" y2="257.30" stroke="#B8163F" stroke-opacity="0.85" stroke-width="1.3"/>
<line x1="455.00" y1="260.60" x2="455.00" y2="267.50" stroke="#B8163F" stroke-opacity="0.85" stroke-width="1.3"/>
<line x1="451.10" y1="270.80" x2="451.10" y2="277.70" stroke="#B8163F" stroke-opacity="0.85" stroke-width="1.3"/>
<line x1="451.10" y1="281.00" x2="451.10" y2="287.90" stroke="#B8163F" stroke-opacity="0.85" stroke-width="1.3"/>
<line x1="450.30" y1="291.20" x2="450.30" y2="298.10" stroke="#B8163F" stroke-opacity="0.85" stroke-width="1.3"/>
<line x1="450.10" y1="301.40" x2="450.10" y2="308.30" stroke="#B8163F" stroke-opacity="0.85" stroke-width="1.3"/>
<line x1="448.50" y1="311.60" x2="448.50" y2="318.50" stroke="#B8163F" stroke-opacity="0.85" stroke-width="1.3"/>
<line x1="446.60" y1="321.80" x2="446.60" y2="328.70" stroke="#B8163F" stroke-opacity="0.85" stroke-width="1.3"/>
<line x1="444.20" y1="332.00" x2="444.20" y2="338.90" stroke="#B8163F" stroke-opacity="0.85" stroke-width="1.3"/>
<line x1="441.40" y1="342.20" x2="441.40" y2="349.10" stroke="#B8163F" stroke-opacity="0.85" stroke-width="1.3"/>
<line x1="441.10" y1="352.40" x2="441.10" y2="359.30" stroke="#B8163F" stroke-opacity="0.85" stroke-width="1.3"/>
<line x1="439.40" y1="362.60" x2="439.40" y2="369.50" stroke="#B8163F" stroke-opacity="0.85" stroke-width="1.3"/>
<line x1="439.20" y1="372.80" x2="439.20" y2="379.70" stroke="#B8163F" stroke-opacity="0.85" stroke-width="1.3"/>
<line x1="439.00" y1="383.00" x2="439.00" y2="389.90" stroke="#B8163F" stroke-opacity="0.85" stroke-width="1.3"/>
<line x1="438.80" y1="393.20" x2="438.80" y2="400.10" stroke="#B8163F" stroke-opacity="0.85" stroke-width="1.3"/>
<line x1="438.70" y1="403.40" x2="438.70" y2="410.30" stroke="#B8163F" stroke-opacity="0.85" stroke-width="1.3"/>
<line x1="438.30" y1="413.60" x2="438.30" y2="420.50" stroke="#B8163F" stroke-opacity="0.85" stroke-width="1.3"/>
<line x1="436.60" y1="423.80" x2="436.60" y2="430.70" stroke="#B8163F" stroke-opacity="0.85" stroke-width="1.3"/>
<line x1="436.60" y1="434.00" x2="436.60" y2="440.90" stroke="#B8163F" stroke-opacity="0.85" stroke-width="1.3"/>
<line x1="436.20" y1="444.20" x2="436.20" y2="451.10" stroke="#B8163F" stroke-opacity="0.85" stroke-width="1.3"/>
<line x1="435.40" y1="454.40" x2="435.40" y2="461.30" stroke="#B8163F" stroke-opacity="0.85" stroke-width="1.3"/>
<polyline points="499.80,155.60 507.00,155.60 507.00,341.70 499.80,341.70" fill="none" stroke="#231F20" stroke-width="1.2"/>
<circle cx="511.40" cy="247.50" r="0.95" fill="#333"/>
<circle cx="10.5" cy="480" r="1.6" fill="#1E3A78"/>
<text x="16.00" y="482.00" font-size="6.8" fill="#231F20" text-anchor="start" stroke="#231F20" stroke-width="0.1" textLength="15.90" lengthAdjust="spacingAndGlyphs" >gRNA</text>
<rect x="40" y="476.8" width="15.5" height="5.6" fill="#A3002A"/>
<text x="59.30" y="482.00" font-size="6.8" fill="#231F20" text-anchor="start" stroke="#231F20" stroke-width="0.1" textLength="13.40" lengthAdjust="spacingAndGlyphs" >CRL4</text>
<text x="73.00" y="478.40" font-size="4.0" fill="#231F20" text-anchor="start" stroke="#231F20" stroke-width="0.12" textLength="11.00" lengthAdjust="spacingAndGlyphs" >CRBN</text>
<rect x="93.2" y="476.9" width="16" height="5.6" fill="#E8BC1C"/>
<text x="112.50" y="482.00" font-size="6.8" fill="#231F20" text-anchor="start" stroke="#231F20" stroke-width="0.1" textLength="38.00" lengthAdjust="spacingAndGlyphs" >E3 Regulators</text>
<rect x="160.5" y="476.9" width="15.8" height="5.6" fill="#6AA6DC"/>
<text x="179.30" y="482.00" font-size="6.8" fill="#231F20" text-anchor="start" stroke="#231F20" stroke-width="0.1" textLength="32.70" lengthAdjust="spacingAndGlyphs" >E2 Enzymes</text>
<rect x="0" y="0" width="520" height="1.05" fill="#000"/>
<rect x="0" y="0" width="1.25" height="493" fill="#000"/>
<rect x="518.45" y="0" width="1.55" height="493" fill="#111"/>
<rect x="0" y="491.8" width="520" height="1.2" fill="#000"/>
</svg></body></html>
